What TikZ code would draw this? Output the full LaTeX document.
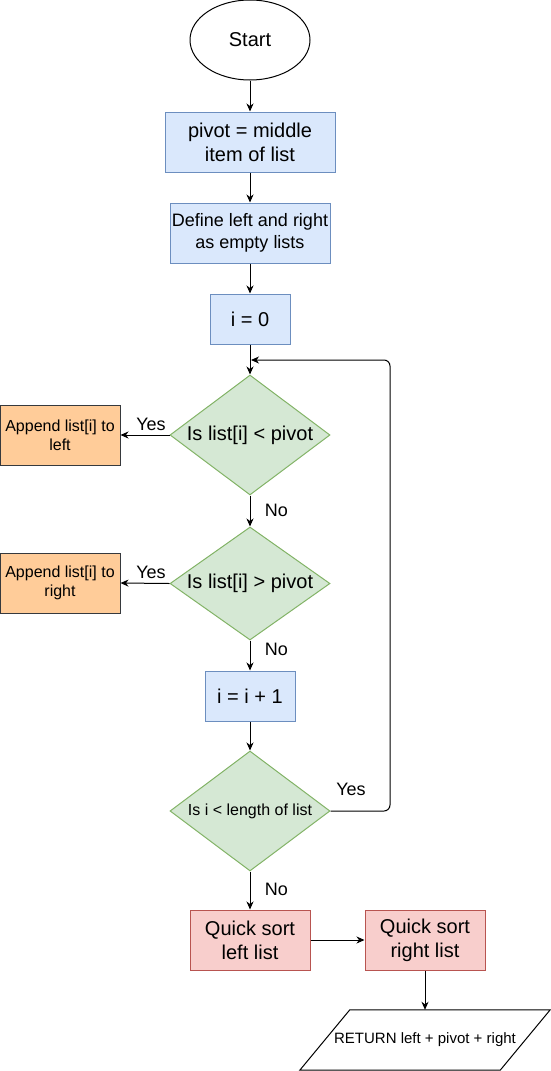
\documentclass[tikz,border=0pt]{standalone}
\usepackage{fontspec}
\setmainfont{Liberation Sans}
\usetikzlibrary{shapes.geometric,arrows.meta,calc}

\definecolor{bluefill}{HTML}{DAE8FC}
\definecolor{blueline}{HTML}{6C8EBF}
\definecolor{greenfill}{HTML}{D5E8D4}
\definecolor{greenline}{HTML}{82B366}
\definecolor{redfill}{HTML}{F8CECC}
\definecolor{redline}{HTML}{B85450}
\definecolor{orangefill}{HTML}{FFCC99}
\definecolor{orangeline}{HTML}{36393D}

\tikzset{
  big/.style={font=\fontsize{20}{24}\selectfont},
  medium/.style={font=\fontsize{18}{21.6}\selectfont},
  small/.style={font=\fontsize{16}{19.2}\selectfont},
  procbox/.style={rectangle, draw=blueline, fill=bluefill, line width=1pt, inner sep=0pt, align=center, big},
  appendbox/.style={rectangle, draw=orangeline, fill=orangefill, line width=1pt, inner sep=0pt, align=center, small,
    minimum width=120pt, minimum height=60pt},
  sortbox/.style={rectangle, draw=redline, fill=redfill, line width=1pt, inner sep=0pt, align=center, big,
    minimum width=120pt, minimum height=60pt},
  decision/.style={diamond, draw=greenline, fill=greenfill, line width=1pt, inner sep=0pt,
    minimum width=160pt, minimum height=120pt},
  flow/.style={draw=black, line width=1pt, -{Stealth[length=8pt,width=7pt,inset=2.5pt]}},
  edgelabel/.style={font=\fontsize{18}{21.6}\selectfont, inner sep=0pt}
}

\begin{document}
\begin{tikzpicture}[x=1pt, y=-1pt]
  \useasboundingbox (0,0) rectangle (551,1071);

  % terminal
  \node[ellipse, draw=black, fill=white, line width=1pt, minimum width=120pt, minimum height=80pt, inner sep=0pt, big]
    (start) at (250,40) {Start};

  % setup steps
  \node[procbox, minimum width=170pt, minimum height=60pt] (pivot) at (250,142) {pivot = middle\\item of list};
  \node[procbox, minimum width=160pt, minimum height=60pt, medium] (define) at (250,233) {Define left and right\\as empty lists};
  \node[procbox, minimum width=80pt, minimum height=50pt] (izero) at (250,319) {i = 0};

  % comparisons
  \node[decision] (cmpless) at (250,435) {};
  \node[big] (cmplesstxt) at (cmpless) {Is list[i] < pivot};
  \node[appendbox] (appleft) at (60,435) {Append list[i] to\\left};

  \node[decision, minimum height=113pt] (cmpmore) at (250,583.5) {};
  \node[big] (cmpmoretxt) at (cmpmore) {Is list[i] > pivot};
  \node[appendbox] (appright) at (60,583) {Append list[i] to\\right};

  % increment and loop test
  \node[procbox, minimum width=90pt, minimum height=50pt] (incr) at (250,696) {i = i + 1};
  \node[decision] (looptest) at (250,811) {};
  \node[small] (looptesttxt) at (looptest) {Is i < length of list};

  % recursion
  \node[sortbox] (qleft) at (250,940) {Quick sort\\left list};
  \node[sortbox] (qright) at (425,940) {Quick sort\\right list};

  % output
  \node[minimum width=200pt, minimum height=60pt, inner sep=0pt, font=\fontsize{15}{18}\selectfont]
    (ret) at (425,1040) {RETURN left + pivot + right};
  \draw[line width=1pt]
    ([xshift=25pt]ret.north west) -- ([xshift=25pt]ret.north east)
    -- ([xshift=-25pt]ret.south east) -- ([xshift=-25pt]ret.south west) -- cycle;

  \coordinate (loopin) at (250,360);

  % connectors
  \draw[flow] (start) -- (pivot);
  \draw[flow] (pivot) -- (define);
  \draw[flow] (define) -- (izero);
  \draw[flow] (izero) -- (cmpless.north);
  \draw[flow] (cmpless.west) -- (appleft.east);
  \draw[flow] (cmpless.south) -- (cmpmore.north);
  \draw[flow] (cmpmore.west) -- (appright.east);
  \draw[flow] (cmpmore.south) -- (incr.north);
  \draw[flow] (incr.south) -- (looptest.north);
  \draw[flow, rounded corners=6pt] (looptest.east) -- (390,811) -- (390,360) -- ([xshift=1pt]loopin);
  \draw[flow] (looptest.south) -- (qleft.north);
  \draw[flow] (qleft.east) -- (qright.west);
  \draw[flow] (qright.south) -- (ret.north);

  % branch labels
  \node[edgelabel] (yes1) at (151,424) {Yes};
  \node[edgelabel] (no1) at (276.5,510) {No};
  \node[edgelabel] (yes2) at (151,572) {Yes};
  \node[edgelabel] (no2) at (276.5,649) {No};
  \node[edgelabel] (yes3) at (351,789) {Yes};
  \node[edgelabel] (no3) at (276.5,889) {No};
\end{tikzpicture}
\end{document}
